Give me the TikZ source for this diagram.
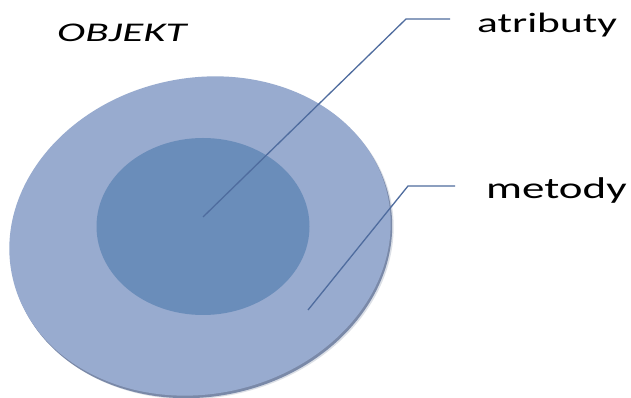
\documentclass[tikz,border=0pt]{standalone}
\usepackage{fontspec}
\setmainfont{Carlito}
\usepackage{graphicx}
\definecolor{discouter}{HTML}{98ABCF}
\definecolor{discinner}{HTML}{6A8DBA}
\definecolor{discrim}{HTML}{7A89A8}
\definecolor{dischalo}{HTML}{CDD2DC}
\definecolor{leader}{HTML}{4F6C9E}
\tikzset{
  leaderline/.style={draw=leader, line width=1.3pt, line join=miter},
  caption/.style={inner sep=0pt, anchor=base west, text=black},
  outerdisc/.style={rotate around={12:(200,162)}},
}
\begin{document}
\begin{tikzpicture}[x=1pt, y=1pt]
  \useasboundingbox (0,0) rectangle (631,398);
  \fill[white] (0,0) rectangle (631,398);

  % soft halo and darker rim under the disc
  \begin{scope}[shift={(3,-3.5)}]
    \fill[dischalo, opacity=0.7, outerdisc]
      (200,162) ellipse [x radius=192pt, y radius=158pt];
  \end{scope}
  \begin{scope}[shift={(1.5,-2.5)}]
    \fill[discrim, outerdisc]
      (200,162) ellipse [x radius=192pt, y radius=158pt];
  \end{scope}

  % outer disc
  \fill[discouter, outerdisc]
    (200,162) ellipse [x radius=192pt, y radius=158pt];

  % inner disc
  \fill[discinner] (203,171.5) ellipse [x radius=106.5pt, y radius=88.5pt];

  % captions
  \node[caption] (objekt) at (57,356)
    {\scalebox{1.59}[1]{\fontsize{27}{30}\selectfont\itshape OBJEKT}};
  \node[caption] (atrib) at (477,365)
    {\scalebox{1.55}[1]{\fontsize{28}{32}\selectfont atributy}};
  \node[caption] (metod) at (486,199)
    {\scalebox{1.50}[1]{\fontsize{30}{34}\selectfont metody}};

  % leader lines
  \coordinate (aend) at (203,181);
  \coordinate (aknee) at (406,379);
  \coordinate (atip) at (450,379);
  \coordinate (mend) at (308,88);
  \coordinate (mknee) at (408,212);
  \coordinate (mtip) at (455,212);
  \draw[leaderline] (aend) -- (aknee) -- (atip);
  \draw[leaderline] (mend) -- (mknee) -- (mtip);
\end{tikzpicture}
\end{document}
